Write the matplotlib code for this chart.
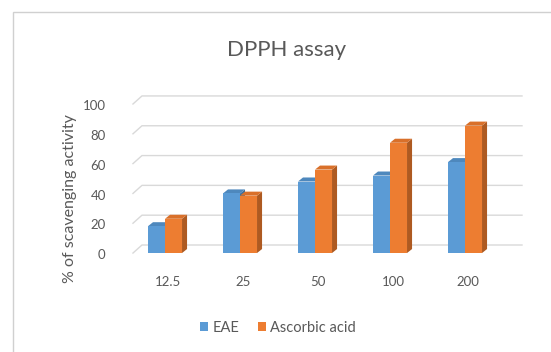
import matplotlib
matplotlib.use("Agg")
import matplotlib.pyplot as plt
from matplotlib.patches import Polygon, Rectangle, Patch

# Data
concentrations = ["12.5", "25", "50", "100", "200"]
eae = [18, 40, 48, 52, 61]
ascorbic_acid = [23, 38.5, 56, 74, 85.5]
y_ticks = [0, 20, 40, 60, 80, 100]
series_names = ["EAE", "Ascorbic acid"]

plt.rcParams["font.family"] = ["Lato", "DejaVu Sans"]
TEXT = "#595959"
GRID = "#d9d9d9"

W, H = 551, 352
fig = plt.figure(figsize=(W / 100, H / 100), dpi=100)
fig.patch.set_facecolor("white")

# chart frame
fig.add_artist(Rectangle((13 / W, -0.05), 1.1, (H - 12) / H + 0.05,
                         transform=fig.transFigure, fill=False,
                         edgecolor="#d0d0d0", linewidth=1.0))

ax = fig.add_axes([90 / W, (H - 300) / H, 450 / W, 220 / H])
ax.set_xlim(-1.0, 5.0)
ax.set_ylim(-31.5, 116.1)
ax.axis("off")

# 3-D look parameters (category / value units)
wall_dx, wall_dy = 0.12, 5.4
bar_dx, bar_dy = 0.067, 2.7
bar_w = 0.227
wall_left = -0.427
wall_right = 4.76

# back-wall gridlines with the floor/side diagonal
for v in y_ticks:
    ax.plot([wall_left, wall_left + wall_dx, wall_right],
            [v, v + wall_dy, v + wall_dy], color=GRID, lw=1.0, zorder=1)
    ax.text(-0.79, v - 1.5, str(v), ha="right", va="center",
            fontsize=9.5, color=TEXT)

colors = {
    "EAE": ("#5b9bd5", "#41719c", "#4e88bd"),
    "Ascorbic acid": ("#ed7d31", "#ae5a21", "#d9702a"),
}


def draw_bar(x0, h, front, side, top, z):
    ax.add_patch(Polygon([(x0 + bar_w, 0), (x0 + bar_w + bar_dx, bar_dy),
                          (x0 + bar_w + bar_dx, h + bar_dy), (x0 + bar_w, h)],
                         closed=True, facecolor=side, edgecolor="none", zorder=z))
    ax.add_patch(Polygon([(x0, h), (x0 + bar_w, h),
                          (x0 + bar_w + bar_dx, h + bar_dy), (x0 + bar_dx, h + bar_dy)],
                         closed=True, facecolor=top, edgecolor="none", zorder=z))
    ax.add_patch(Rectangle((x0, 0), bar_w, h, facecolor=front,
                           edgecolor="none", zorder=z))


for i, (a, b) in enumerate(zip(eae, ascorbic_acid)):
    f, s, t = colors["EAE"]
    draw_bar(i - bar_w, a, f, s, t, 3 + i * 2)
    f, s, t = colors["Ascorbic acid"]
    draw_bar(i, b, f, s, t, 4 + i * 2)
    ax.text(i + 0.04, -19.5, concentrations[i], ha="center", va="center",
            fontsize=9.5, color=TEXT)

fig.text(287 / W, 1 - 50 / H, "DPPH assay", ha="center", va="center",
         fontsize=16, color=TEXT)
fig.text(70 / W, 1 - 199 / H, "% of scavenging activity", ha="center",
         va="center", rotation=90, fontsize=11.5, color=TEXT)

handles = [Patch(facecolor=colors[n][0], edgecolor="none", label=n)
           for n in series_names]
fig.legend(handles=handles, loc="center", bbox_to_anchor=(278 / W, 1 - 328 / H),
           ncol=2, frameon=False, fontsize=10.5, handlelength=0.55, handleheight=0.55,
           handletextpad=0.3, columnspacing=1.3, labelcolor=TEXT)

fig.savefig("out.png", dpi=100, facecolor="white")
